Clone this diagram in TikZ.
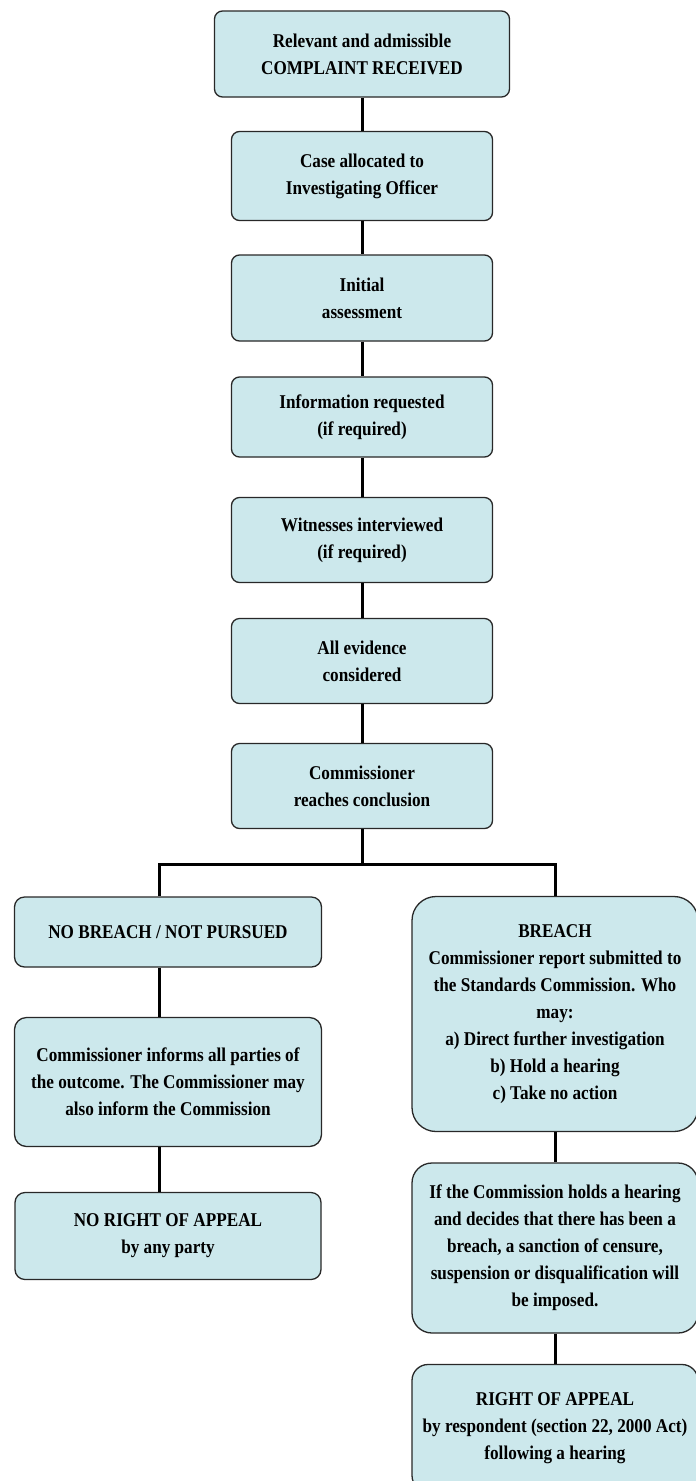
\documentclass[tikz,border=0pt]{standalone}
\usepackage{fontspec}
\setmainfont{Liberation Serif}[FakeStretch=0.88]
\usepackage{tikz}
\definecolor{boxfill}{RGB}{204,232,236}
\definecolor{boxline}{RGB}{40,40,40}

\tikzset{
  stepbox/.style={draw=boxline, line width=1.3pt, fill=boxfill, rounded corners=8pt,
    align=center, inner sep=4pt, minimum width=261pt, minimum height=85pt,
    font=\fontsize{19.5}{27}\selectfont\bfseries},
  link/.style={line width=3pt, black}
}

\begin{document}
\begin{tikzpicture}[x=1pt, y=-1pt]
\useasboundingbox (0,0) rectangle (696,1481);
\fill[white] (0,0) rectangle (696,1481);
\clip (0,0) rectangle (696,1481);

% Main column
\node[stepbox, minimum width=295pt, minimum height=86pt] (complaint) at (362,54) {Relevant and admissible\\COMPLAINT RECEIVED};
\node[stepbox, minimum height=89pt] (allocated) at (362,176) {Case allocated to\\Investigating Officer};
\node[stepbox, minimum height=86pt] (initial) at (362,298) {Initial\\assessment};
\node[stepbox, minimum height=80pt] (information) at (362,417) {Information requested\\(if required)};
\node[stepbox] (witnesses) at (362,540) {Witnesses interviewed\\(if required)};
\node[stepbox] (evidence) at (362,661) {All evidence\\considered};
\node[stepbox] (conclusion) at (362,786) {Commissioner\\reaches conclusion};

% No breach branch
\node[stepbox, minimum width=307pt, minimum height=70pt, rounded corners=10pt] (nobreach) at (168,932) {NO BREACH / NOT PURSUED};
\node[stepbox, minimum width=307pt, minimum height=129pt, rounded corners=12pt] (informs) at (168,1082) {Commissioner informs all parties of\\the outcome. The Commissioner may\\also inform the Commission};
\node[stepbox, minimum width=306pt, minimum height=87pt, rounded corners=10pt] (noappeal) at (168,1236) {NO RIGHT OF APPEAL\\by any party};

% Breach branch
\node[stepbox, minimum width=286pt, minimum height=235pt, rounded corners=24pt] (breach) at (555,1014) {BREACH\\Commissioner report submitted to\\the Standards Commission. Who\\may:\\a) Direct further investigation\\b) Hold a hearing\\c) Take no action};
\node[stepbox, minimum width=286pt, minimum height=170pt, rounded corners=20pt] (sanction) at (555,1248) {If the Commission holds a hearing\\and decides that there has been a\\breach, a sanction of censure,\\suspension or disqualification will\\be imposed.};
\node[stepbox, minimum width=286pt, minimum height=127pt, rounded corners=16pt] (appeal) at (555,1428) {RIGHT OF APPEAL\\by respondent (section 22, 2000 Act)\\following a hearing};

% Links
\draw[link] (complaint.south) -- (allocated.north);
\draw[link] (allocated.south) -- (initial.north);
\draw[link] (initial.south) -- (information.north);
\draw[link] (information.south) -- (witnesses.north);
\draw[link] (witnesses.south) -- (evidence.north);
\draw[link] (evidence.south) -- (conclusion.north);

% Fork
\coordinate (fork) at (362,864);
\draw[link] (conclusion.south) -- (fork);
\draw[link] ([xshift=-9pt]nobreach.north) |- (fork) -| (breach.north);

\draw[link] ([xshift=-9pt]nobreach.south) -- ([xshift=-9pt]informs.north);
\draw[link] ([xshift=-9pt]informs.south) -- ([xshift=-9pt]noappeal.north);
\draw[link] (breach.south) -- (sanction.north);
\draw[link] (sanction.south) -- (appeal.north);
\end{tikzpicture}
\end{document}
